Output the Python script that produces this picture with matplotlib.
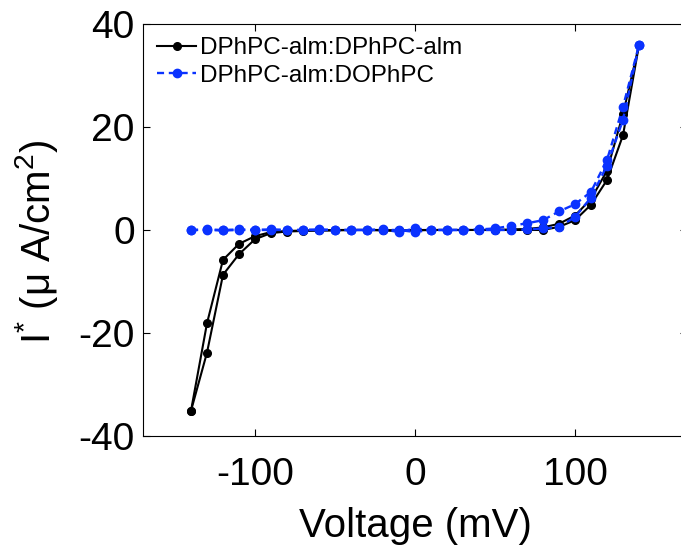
import matplotlib
matplotlib.use('Agg')
import matplotlib.pyplot as plt

plt.rcParams['font.family'] = ['Liberation Sans', 'DejaVu Sans']
plt.rcParams['mathtext.fontset'] = 'custom'
plt.rcParams['mathtext.rm'] = 'Liberation Sans'
plt.rcParams['mathtext.it'] = 'Liberation Sans'
plt.rcParams['axes.unicode_minus'] = False

# voltage sweep (mV)
voltage = list(range(-140, 150, 10))

# DPhPC-alm:DPhPC-alm, two sweeps
black_a = [-35.1, -18.1, -5.8, -2.7, -1.2, -0.4, -0.2, -0.1, -0.1, 0.0,
           0.0, 0.0, 0.0, -0.1, 0.0, 0.0, 0.0, 0.0, 0.0, 0.0,
           0.1, 0.2, 0.5, 1.2, 2.8, 6.0, 11.5, 22.5, 35.9]
black_b = [-35.1, -23.8, -8.7, -4.7, -1.8, -0.6, -0.3, -0.2, -0.1, -0.1,
           0.0, 0.0, -0.1, -0.2, -0.1, 0.0, 0.0, 0.0, 0.0, 0.0,
           0.0, 0.0, 0.0, 0.6, 1.9, 4.9, 9.7, 18.4, 35.9]

# DPhPC-alm:DOPhPC, two sweeps
blue_a = [0.0, 0.1, 0.0, 0.1, 0.0, 0.1, 0.0, 0.0, 0.1, 0.0,
          0.0, 0.0, 0.1, -0.4, 0.3, 0.0, 0.0, 0.0, 0.1, 0.3,
          0.8, 1.3, 1.9, 3.6, 5.0, 7.4, 13.6, 23.9, 35.9]
blue_b = [0.0, 0.0, -0.1, 0.0, 0.0, 0.0, 0.0, 0.0, 0.0, 0.0,
          0.0, 0.0, 0.0, 0.0, -0.4, 0.0, 0.0, 0.0, 0.0, 0.0,
          0.0, 0.1, 0.3, 0.6, 2.5, 6.3, 12.5, 21.4, 35.9]

black = 'black'
blue = '#0a32ff'

fig = plt.figure(figsize=(6.81, 5.46), dpi=100)
ax = fig.add_axes([0.21, 0.2015, 0.7988, 0.7546])

ax.plot(voltage, black_a, color=black, marker='o', markersize=5.5, linewidth=1.5,
        label='DPhPC-alm:DPhPC-alm')
ax.plot(voltage, black_b, color=black, marker='o', markersize=5.5, linewidth=1.5)
ax.plot(voltage, blue_a, color=blue, marker='o', markersize=6, linewidth=1.7,
        linestyle=(0, (3, 2)), label='DPhPC-alm:DOPhPC')
ax.plot(voltage, blue_b, color=blue, marker='o', markersize=6, linewidth=1.7,
        linestyle=(0, (3, 2)))

ax.set_xlim(-170, 170)
ax.set_ylim(-40, 40)
ax.set_xticks([-100, 0, 100])
ax.set_yticks([-40, -20, 0, 20, 40])

ax.tick_params(direction='in', length=5, width=0.8, top=True, right=True,
               labelsize=28)
ax.tick_params(axis='x', pad=15)
ax.tick_params(axis='y', pad=6)
for s in ax.spines.values():
    s.set_linewidth(0.8)

ax.set_xlabel('Voltage (mV)', fontsize=29, labelpad=10)
ax.set_ylabel('I$^{*}$ (μ A/cm$^{2}$)', fontsize=29, labelpad=6)
ax.yaxis.set_label_coords(-0.152, 0.47)

ax.legend(loc='upper left', bbox_to_anchor=(0.026, 0.968), frameon=False,
          fontsize=17.5, borderpad=0, borderaxespad=0, handlelength=1.6,
          handletextpad=0.18, labelspacing=0.22)

fig.savefig('out.png', dpi=100)
